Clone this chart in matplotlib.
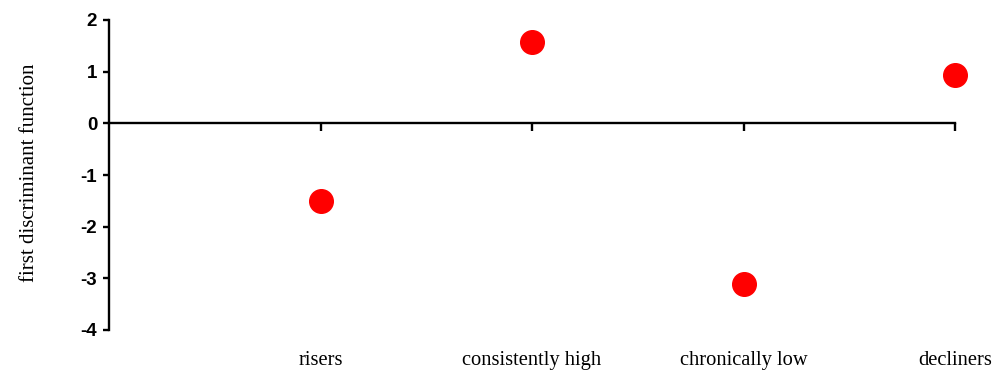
import matplotlib
matplotlib.use("Agg")
import matplotlib.pyplot as plt
import matplotlib.transforms as mtransforms

categories = ["risers", "consistently high", "chronically low", "decliners"]
values = [-1.5, 1.58, -3.1, 0.93]
y_ticks = [-4, -3, -2, -1, 0, 1, 2]

fig = plt.figure(figsize=(9.96, 3.72), dpi=100)
ax = fig.add_axes([109 / 996, 42 / 372, 846 / 996, 310 / 372])

x = list(range(1, len(categories) + 1))
ax.plot(x, values, linestyle="none", marker="o", markersize=17,
        color="#ff0000", clip_on=False, zorder=3)

ax.set_xlim(0, 4)
ax.set_ylim(-4, 2)

# axis lines: y-axis on the left, x-axis crossing at zero
for side in ["top", "right"]:
    ax.spines[side].set_visible(False)
ax.spines["bottom"].set_position(("data", 0))
ax.spines["left"].set_linewidth(1.7)
ax.spines["bottom"].set_linewidth(1.7)

ax.set_xticks(x)
ax.set_xticklabels([])
ax.tick_params(axis="x", direction="out", length=6, width=1.7)

ax.set_yticks(y_ticks)
ax.set_yticklabels([str(t) for t in y_ticks], fontfamily="Liberation Sans",
                   fontweight="bold", fontsize=13.5)
ax.tick_params(axis="y", direction="out", length=4.5, width=1.7, pad=4)

# category names sit below the plot area
trans = mtransforms.blended_transform_factory(ax.transData, ax.transAxes)
for xi, name in zip(x, categories):
    ax.text(xi, -0.097, name, transform=trans, ha="center", va="center",
            fontfamily="Liberation Serif", fontsize=14.8)

fig.text(30 / 996, (372 - 173) / 372, "first discriminant function", rotation=90,
         ha="center", va="center", fontfamily="Liberation Serif", fontsize=15)

fig.savefig("out.png", dpi=100)
